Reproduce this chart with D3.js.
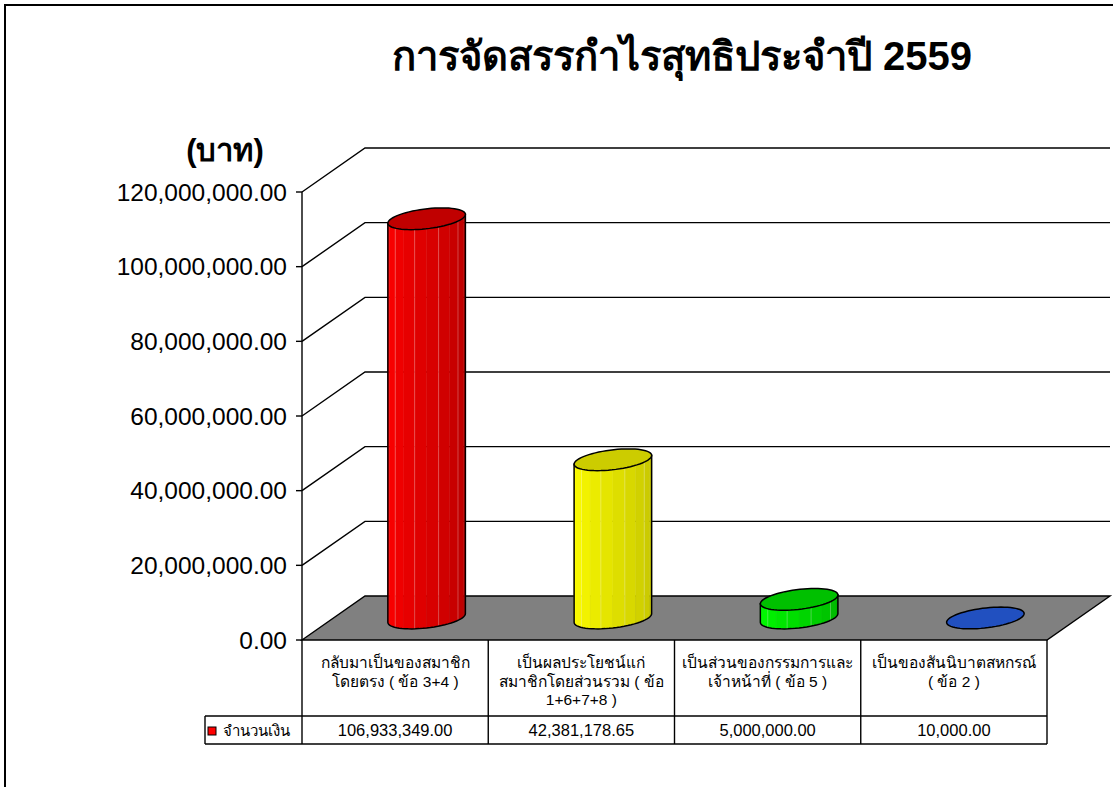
<!DOCTYPE html>
<html>
<head>
<meta charset="utf-8">
<script src="https://cdn.jsdelivr.net/npm/d3@7"></script>
<style>
  body { margin: 0; background: #fff; }
  svg text { font-family: "Liberation Sans", Arial, "DejaVu Sans", sans-serif; fill: #000; }
</style>
</head>
<body>
<svg id="chart" width="1113" height="787"></svg>
<script>
// data
var categories = ["c1", "c2", "c3", "c4"];
var categoryLines = [
	["กลับมาเป็นของสมาชิก", "โดยตรง ( ข้อ 3+4 )"],
	["เป็นผลประโยชน์แก่", "สมาชิกโดยส่วนรวม ( ข้อ", "1+6+7+8 )"],
	["เป็นส่วนของกรรมการและ", "เจ้าหน้าที่ ( ข้อ 5 )"],
	["เป็นของสันนิบาตสหกรณ์", "( ข้อ 2 )"]
];
var amounts = [106933349.00, 42381178.65, 5000000.00, 10000.00];
var amountLabels = ["106,933,349.00", "42,381,178.65", "5,000,000.00", "10,000.00"];
var tickValues = [0, 20000000, 40000000, 60000000, 80000000, 100000000, 120000000];
var seriesName = "จำนวนเงิน";
var barColors = [
	{side0: "#ff0000", side1: "#b80000", top: "#c00000"},
	{side0: "#ffff00", side1: "#c4c400", top: "#cccc00"},
	{side0: "#00ff00", side1: "#00b400", top: "#00c000"},
	{side0: "#3060d0", side1: "#2048b0", top: "#2150c0"}
];

var svg = d3.select("#chart");

// outer frame (right/bottom edge run off the picture)
svg.append("rect")
	.attr("x", 5).attr("y", 5)
	.attr("width", 1200).attr("height", 1000)
	.attr("fill", "none").attr("stroke", "#000").attr("stroke-width", 2);

svg.append("text")
	.attr("x", 682).attr("y", 70)
	.attr("text-anchor", "middle")
	.style("font-size", "40px").style("font-weight", "bold")
	.text("การจัดสรรกำไรสุทธิประจำปี 2559");

svg.append("text")
	.attr("x", 225).attr("y", 161)
	.attr("text-anchor", "middle")
	.style("font-size", "31px").style("font-weight", "bold")
	.text("(บาท)");

var x0 = 302, x1 = 1047,
	depth = {dx: 63, dy: -44};

var y = d3.scaleLinear().domain([0, 120000000]).range([640, 192]);
var x = d3.scaleBand().domain(categories).range([x0, x1]);

// back wall gridlines
var grid = svg.append("g").attr("fill", "none").attr("stroke", "#000").attr("stroke-width", 1.4);
tickValues.filter(function(v) { return v > 0; }).forEach(function(v) {
	grid.append("polyline")
		.attr("points", [[x0, y(v)], [x0 + depth.dx, y(v) + depth.dy], [x1 + depth.dx, y(v) + depth.dy]].join(" "));
});

// floor
svg.append("polygon")
	.attr("points", [[x0, y(0)], [x0 + depth.dx, y(0) + depth.dy], [x1 + depth.dx, y(0) + depth.dy], [x1, y(0)]].join(" "))
	.attr("fill", "#808080").attr("stroke", "#000").attr("stroke-width", 1.4);

// value axis
var axis = svg.append("g");
axis.append("line")
	.attr("x1", x0).attr("x2", x0).attr("y1", y(120000000)).attr("y2", 744)
	.attr("stroke", "#000").attr("stroke-width", 1.4);
var fmt = d3.format(",.2f");
tickValues.forEach(function(v) {
	axis.append("line")
		.attr("x1", x0 - 6).attr("x2", x0).attr("y1", y(v)).attr("y2", y(v))
		.attr("stroke", "#000").attr("stroke-width", 1.4);
	axis.append("text")
		.attr("x", 287).attr("y", y(v)).attr("dy", "0.36em")
		.attr("text-anchor", "end")
		.style("font-size", "24.5px")
		.text(fmt(v));
});

// cylinders
var rx = 35.5, dr = 19,
	dlen = Math.sqrt(depth.dx * depth.dx + depth.dy * depth.dy),
	ux = depth.dx / dlen, uy = depth.dy / dlen,
	t0 = Math.atan2(dr * ux, rx);

function ell(cx, cy, t) {
	return [cx + rx * Math.cos(t) + dr * ux * Math.sin(t), cy + dr * uy * Math.sin(t)];
}
function ellipsePath(cx, cy) {
	var pts = d3.range(0, 64).map(function(i) { return ell(cx, cy, i / 64 * 2 * Math.PI); });
	return "M" + pts.join("L") + "Z";
}

var facets = 10;
categories.forEach(function(c, i) {
	var cx = x(c) + x.bandwidth() / 2 + depth.dx / 2,
		cyB = y(0) + depth.dy / 2,
		cyT = y(amounts[i]) + depth.dy / 2,
		col = barColors[i],
		g = svg.append("g");
	var shade = d3.interpolateRgb(col.side0, col.side1);

	if (cyB - cyT > 0.5) {
		for (var k = 0; k < facets; k++) {
			var ta = Math.PI + t0 + k / facets * Math.PI,
				tb = Math.PI + t0 + (k + 1) / facets * Math.PI;
			var pts = [ell(cx, cyB, ta), ell(cx, cyB, tb), ell(cx, cyT, tb), ell(cx, cyT, ta)];
			g.append("polygon")
				.attr("points", pts.join(" "))
				.attr("fill", shade(k / (facets - 1)))
				.attr("stroke", shade(k / (facets - 1))).attr("stroke-width", 0.5);
			if (k > 0 && k % 2 == 0) {
				g.append("line")
					.attr("x1", pts[0][0]).attr("y1", pts[0][1])
					.attr("x2", pts[3][0]).attr("y2", pts[3][1])
					.attr("stroke", "#fff").attr("stroke-opacity", 0.35).attr("stroke-width", 0.8);
			}
		}
		// side outline
		var outline = d3.range(0, 33).map(function(j) { return ell(cx, cyB, Math.PI + t0 + j / 32 * Math.PI); });
		outline.push(ell(cx, cyT, t0));
		outline.push(ell(cx, cyT, Math.PI + t0));
		g.append("path")
			.attr("d", "M" + outline.join("L") + "Z")
			.attr("fill", "none").attr("stroke", "#000").attr("stroke-width", 1.5);
	}
	g.append("path")
		.attr("d", ellipsePath(cx, cyT))
		.attr("fill", col.top).attr("stroke", "#000").attr("stroke-width", 1.5);
});

// data table
var table = svg.append("g").attr("stroke", "#000").attr("stroke-width", 1.4);
var rowTop = 716, rowBottom = 744, legendLeft = 205;
categories.forEach(function(c) {
	table.append("line")
		.attr("x1", x(c) + x.bandwidth()).attr("x2", x(c) + x.bandwidth())
		.attr("y1", y(0)).attr("y2", rowBottom);
});
table.append("line").attr("x1", legendLeft).attr("x2", x1).attr("y1", rowTop).attr("y2", rowTop);
table.append("line").attr("x1", legendLeft).attr("x2", x1).attr("y1", rowBottom).attr("y2", rowBottom);
table.append("line").attr("x1", legendLeft).attr("x2", legendLeft).attr("y1", rowTop).attr("y2", rowBottom);

categories.forEach(function(c, i) {
	var t = svg.append("text")
		.attr("x", x(c) + x.bandwidth() / 2)
		.attr("text-anchor", "middle")
		.style("font-size", "15.5px");
	categoryLines[i].forEach(function(line, j) {
		t.append("tspan")
			.attr("x", x(c) + x.bandwidth() / 2)
			.attr("y", 668 + j * 18.5)
			.text(line);
	});
	svg.append("text")
		.attr("x", x(c) + x.bandwidth() / 2).attr("y", 736)
		.attr("text-anchor", "middle")
		.style("font-size", "16.5px")
		.text(amountLabels[i]);
});

svg.append("rect")
	.attr("x", 208).attr("y", 727).attr("width", 8).attr("height", 8)
	.attr("fill", barColors[0].side0).attr("stroke", "#000").attr("stroke-width", 1);
svg.append("text")
	.attr("x", 223).attr("y", 736)
	.style("font-size", "15px")
	.text(seriesName);
</script>
</body>
</html>
